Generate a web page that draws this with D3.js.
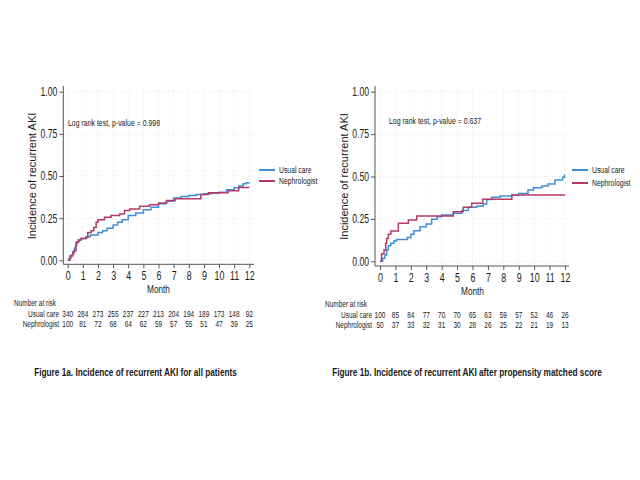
<!DOCTYPE html>
<html>
<head>
<meta charset="utf-8">
<script src="https://cdn.jsdelivr.net/npm/d3@7"></script>
<style>
  body { margin: 0; background: #fff; }
  svg { display: block; }
  text { font-family: "Liberation Sans", Arial, sans-serif; fill: #1a1a1a; }
</style>
</head>
<body>
<div id="chart"></div>
<script>
// Tick labels and categories
const months = [0, 1, 2, 3, 4, 5, 6, 7, 8, 9, 10, 11, 12];
const yTicks = [0, 0.25, 0.5, 0.75, 1];
const groups = ['Usual care', 'Nephrologist'];

// Figure 1a - cumulative incidence, [month, incidence]
const usualCareA = [[0, 0], [0.1, 0.012], [0.22, 0.03], [0.33, 0.05], [0.44, 0.072], [0.52, 0.09], [0.6, 0.11],
  [0.75, 0.12], [0.88, 0.13], [1.2, 0.14], [1.5, 0.15], [2.0, 0.165], [2.3, 0.175], [2.6, 0.19], [3.0, 0.21],
  [3.3, 0.225], [3.6, 0.24], [4.0, 0.265], [4.5, 0.28], [5.0, 0.3], [5.5, 0.315], [6.0, 0.335], [6.5, 0.35],
  [7.0, 0.37], [7.5, 0.378], [8.0, 0.385], [8.5, 0.39], [9.0, 0.394], [9.5, 0.398], [10.0, 0.404],
  [10.5, 0.418], [11.0, 0.43], [11.3, 0.44], [11.6, 0.454], [11.8, 0.46], [12, 0.462]];
const nephrologistA = [[0, 0], [0.15, 0.026], [0.33, 0.04], [0.42, 0.056], [0.55, 0.105], [0.7, 0.12], [0.88, 0.13],
  [1.2, 0.135], [1.33, 0.165], [1.55, 0.175], [1.72, 0.195], [1.88, 0.225], [2.0, 0.24], [2.43, 0.255],
  [2.87, 0.265], [3.43, 0.275], [3.75, 0.295], [4.1, 0.305], [4.75, 0.32], [5.4, 0.33], [6.0, 0.34],
  [6.55, 0.355], [7.1, 0.365], [8.8, 0.39], [9.3, 0.4], [10.6, 0.413], [11.3, 0.432], [12, 0.432]];

// Figure 1b - propensity matched
const usualCareB = [[0, 0], [0.17, 0.018], [0.32, 0.037], [0.43, 0.067], [0.54, 0.092], [0.7, 0.106], [0.9, 0.12],
  [1.08, 0.128], [1.77, 0.14], [2.0, 0.16], [2.2, 0.18], [2.6, 0.204], [3.0, 0.22], [3.35, 0.248], [3.7, 0.263],
  [4.0, 0.273], [4.75, 0.283], [5.3, 0.3], [5.73, 0.318], [6.27, 0.326], [6.7, 0.338], [6.92, 0.365],
  [7.25, 0.377], [7.8, 0.385], [8.55, 0.39], [9.0, 0.4], [9.6, 0.42], [9.95, 0.434], [10.5, 0.444],
  [10.9, 0.456], [11.35, 0.48], [11.85, 0.495], [11.97, 0.509], [12, 0.509]];
const nephrologistB = [[0, 0], [0.1, 0.045], [0.26, 0.067], [0.37, 0.106], [0.43, 0.135], [0.54, 0.16], [0.7, 0.178],
  [1.19, 0.224], [1.84, 0.243], [2.38, 0.267], [4.76, 0.292], [5.4, 0.318], [5.95, 0.342], [6.66, 0.366],
  [8.55, 0.391], [12, 0.391]];

// Number at risk
const riskUsualA = [340, 284, 273, 255, 237, 227, 213, 204, 194, 189, 173, 148, 92];
const riskNephA = [100, 81, 72, 68, 64, 62, 59, 57, 55, 51, 47, 39, 25];
const riskUsualB = [100, 85, 84, 77, 70, 70, 65, 63, 59, 57, 52, 46, 26];
const riskNephB = [50, 37, 33, 32, 31, 30, 28, 26, 25, 22, 21, 19, 13];

const colors = ['#3f8fd8', '#b53a68'];

const svg = d3.select('#chart').append('svg')
  .attr('width', 640)
  .attr('height', 480);

// text squeezed horizontally, like the narrow Stata font in the picture
function label(g, x, y, str, size, sx, anchor, weight) {
  return g.append('text')
    .attr('transform', `translate(${x},${y}) scale(${sx},1)`)
    .attr('text-anchor', anchor || 'start')
    .attr('dominant-baseline', 'middle')
    .style('font-size', size + 'px')
    .style('font-weight', weight || 'normal')
    .text(str);
}

function drawPanel(p) {
  const g = svg.append('g');
  const x = d3.scaleLinear().domain([0, 12]).range([p.x0, p.x1]);
  const y = d3.scaleLinear().domain([0, 1]).range([p.y0, p.y1]);

  // grid
  g.selectAll('.hgrid').data(yTicks).enter().append('line')
    .attr('x1', p.axisX).attr('x2', p.right)
    .attr('y1', d => y(d)).attr('y2', d => y(d))
    .attr('stroke', '#ececec').attr('stroke-width', 0.8).attr('stroke-dasharray', '2,2');
  g.selectAll('.vgrid').data(months).enter().append('line')
    .attr('x1', d => x(d)).attr('x2', d => x(d))
    .attr('y1', p.top).attr('y2', p.axisY)
    .attr('stroke', '#ececec').attr('stroke-width', 0.8).attr('stroke-dasharray', '2,2');

  // axes
  const ax = g.append('g').attr('transform', `translate(0,${p.axisY})`)
    .call(d3.axisBottom(x).tickValues(months).tickFormat(d3.format('d')).tickSize(4).tickPadding(3));
  const ay = g.append('g').attr('transform', `translate(${p.axisX},0)`)
    .call(d3.axisLeft(y).tickValues(yTicks).tickFormat(d3.format('.2f')).tickSize(4).tickPadding(2));
  [ax, ay].forEach(a => {
    a.select('.domain').remove();
    a.selectAll('line').attr('stroke', '#555');
    a.selectAll('text').style('font-size', '12px').attr('fill', '#1a1a1a');
  });
  ax.selectAll('text').attr('transform', 'scale(0.74,1)');
  ay.selectAll('text').attr('x', -6 / 0.72).attr('transform', 'scale(0.72,1)');
  g.append('line').attr('x1', p.axisX).attr('x2', p.axisX).attr('y1', p.top).attr('y2', p.axisY)
    .attr('stroke', '#555');
  g.append('line').attr('x1', p.axisX).attr('x2', p.right).attr('y1', p.axisY).attr('y2', p.axisY)
    .attr('stroke', '#555');

  // curves
  const line = d3.line().x(d => x(d[0])).y(d => y(d[1])).curve(d3.curveStepAfter);
  p.series.forEach((s, i) => {
    g.append('path').datum(s)
      .attr('fill', 'none')
      .attr('stroke', colors[i])
      .attr('stroke-width', 1.5)
      .attr('d', line);
  });

  // titles and note
  g.append('text')
    .attr('transform', `translate(${p.titleX},${(p.y0 + p.y1) / 2}) rotate(-90)`)
    .attr('text-anchor', 'middle')
    .attr('dominant-baseline', 'middle')
    .style('font-size', '11px')
    .text('Incidence of recurrent AKI');
  label(g, (p.x0 + p.x1) / 2, p.monthY, 'Month', 10.7, 0.77, 'middle');
  label(g, p.noteX, p.noteY, p.note, 9.4, 0.74);

  // legend
  groups.forEach((name, i) => {
    const ly = p.legendY[i];
    g.append('line').attr('x1', p.legendX).attr('x2', p.legendX + 16)
      .attr('y1', ly).attr('y2', ly)
      .attr('stroke', colors[i]).attr('stroke-width', 2);
    label(g, p.legendX + 20, ly, name, 9.5, 0.72);
  });

  // number at risk table
  label(g, p.riskX, p.riskY[0], 'Number at risk', 9, 0.72);
  groups.forEach((name, i) => {
    label(g, p.riskLabelX, p.riskY[i + 1], name, 9, 0.72, 'end');
    p.risk[i].forEach((v, j) => {
      label(g, x(months[j]), p.riskY[i + 1], v, 9, 0.72, 'middle');
    });
  });

  label(g, p.captionX, p.captionY, p.caption, 11, 0.75, 'middle', 'bold');
}

drawPanel({
  x0: 67.7, x1: 249.3, y0: 260.3, y1: 91.7,
  axisX: 63.3, axisY: 264.3, top: 86, right: 254,
  titleX: 33, monthY: 290.5,
  note: 'Log rank test, p-value = 0.998', noteX: 68, noteY: 124,
  legendX: 259, legendY: [170, 181],
  riskX: 14, riskLabelX: 59, riskY: [304, 314.3, 324.3],
  risk: [riskUsualA, riskNephA],
  series: [usualCareA, nephrologistA],
  caption: 'Figure 1a. Incidence of recurrent AKI for all patients', captionX: 135.5, captionY: 372.7
});

drawPanel({
  x0: 380, x1: 565, y0: 261.3, y1: 91.7,
  axisX: 375, axisY: 266, top: 86, right: 569,
  titleX: 345, monthY: 292,
  note: 'Log rank test, p-value = 0.637', noteX: 389, noteY: 122,
  legendX: 572, legendY: [170, 183],
  riskX: 325, riskLabelX: 372, riskY: [305, 315.5, 325.3],
  risk: [riskUsualB, riskNephB],
  series: [usualCareB, nephrologistB],
  caption: 'Figure 1b. Incidence of recurrent AKI after propensity matched score', captionX: 467, captionY: 373
});
</script>
</body>
</html>
